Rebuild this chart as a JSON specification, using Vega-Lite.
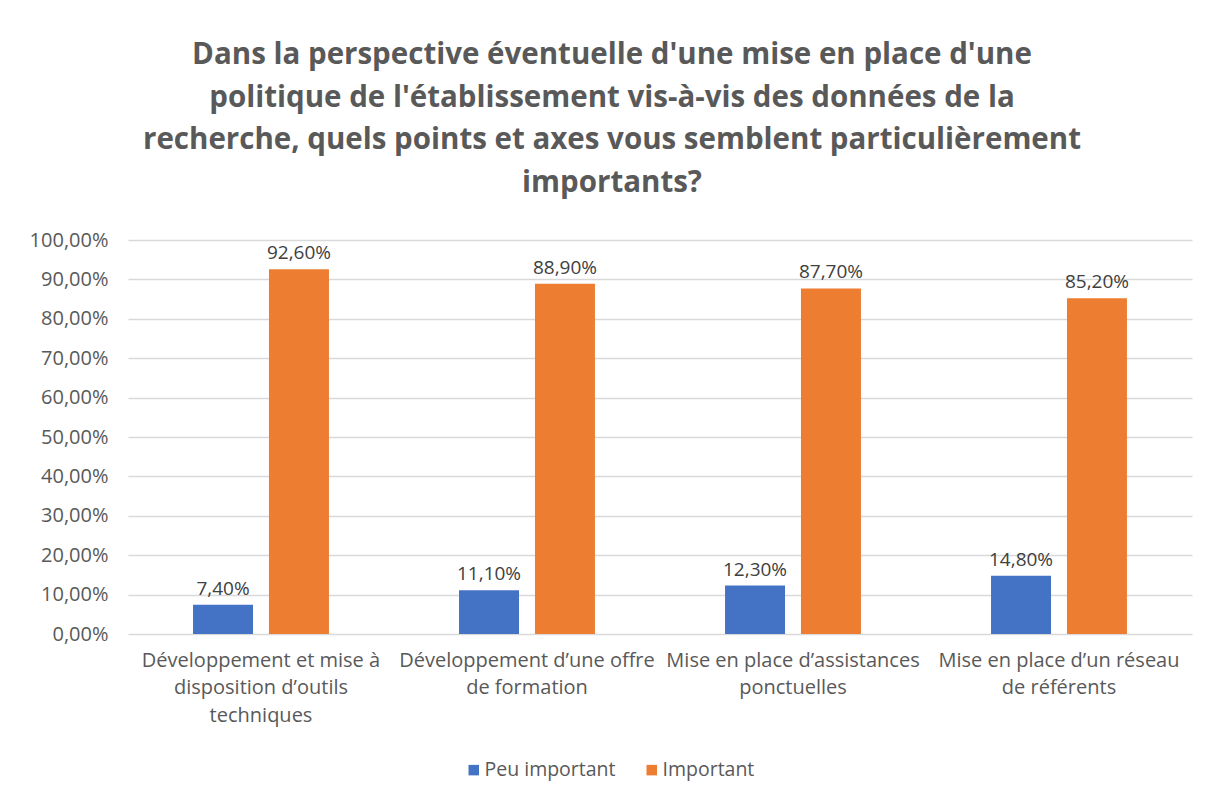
{
  "$schema": "https://vega.github.io/schema/vega-lite/v6.json",
  "width": 1064,
  "height": 394,
  "autosize": {"type": "none"},
  "padding": {"left": 128, "top": 240, "right": 14, "bottom": 167},
  "background": "white",
  "title": {
    "text": ["Dans la perspective éventuelle d'une mise en place d'une", "politique de l'établissement vis-à-vis des données de la", "recherche, quels points et axes vous semblent particulièrement", "importants?"],
    "font": "Open Sans",
    "fontSize": 29.5,
    "fontWeight": "bold",
    "color": "#595959",
    "lineHeight": 42.5,
    "anchor": "middle",
    "dx": -48,
    "offset": 32
  },
  "config": {
    "locale": {"number": {"decimal": ",", "thousands": " ", "grouping": [3], "currency": ["", " €"]}},
    "view": {"stroke": null},
    "font": "Open Sans"
  },
  "data": {
    "values": [
      {"cat": "Développement et mise à|disposition d’outils|techniques", "serie": "Peu important", "value": 0.074},
      {"cat": "Développement et mise à|disposition d’outils|techniques", "serie": "Important", "value": 0.926},
      {"cat": "Développement d’une offre|de formation", "serie": "Peu important", "value": 0.111},
      {"cat": "Développement d’une offre|de formation", "serie": "Important", "value": 0.889},
      {"cat": "Mise en place d’assistances|ponctuelles", "serie": "Peu important", "value": 0.123},
      {"cat": "Mise en place d’assistances|ponctuelles", "serie": "Important", "value": 0.877},
      {"cat": "Mise en place d’un réseau|de référents", "serie": "Peu important", "value": 0.148},
      {"cat": "Mise en place d’un réseau|de référents", "serie": "Important", "value": 0.852}
    ]
  },
  "encoding": {
    "x": {
      "field": "cat",
      "type": "nominal",
      "sort": null,
      "scale": {"paddingInner": 0.489, "paddingOuter": 0.2445},
      "axis": {
        "title": null,
        "labelAngle": 0,
        "labelExpr": "split(datum.label, '|')",
        "labelFont": "Open Sans",
        "labelFontSize": 20,
        "labelColor": "#595959",
        "labelLineHeight": 27.5,
        "labelPadding": 16,
        "labelLimit": 400,
        "labelOverlap": false,
        "ticks": false,
        "domain": false
      }
    },
    "xOffset": {
      "field": "serie",
      "type": "nominal",
      "sort": ["Peu important", "Important"],
      "scale": {"paddingInner": 0.21, "paddingOuter": 0}
    },
    "y": {
      "field": "value",
      "type": "quantitative",
      "scale": {"domain": [0, 1]},
      "axis": {
        "title": null,
        "format": ".2%",
        "values": [0, 0.1, 0.2, 0.3, 0.4, 0.5, 0.6, 0.7, 0.8, 0.9, 1],
        "labelOverlap": false,
        "labelFont": "Open Sans",
        "labelFontSize": 20,
        "labelColor": "#595959",
        "labelPadding": 20,
        "ticks": false,
        "domain": false,
        "grid": true,
        "gridColor": "#d9d9d9",
        "gridWidth": 1.5
      }
    }
  },
  "layer": [
    {
      "mark": {"type": "bar"},
      "encoding": {
        "color": {
          "field": "serie",
          "type": "nominal",
          "sort": ["Peu important", "Important"],
          "scale": {"domain": ["Peu important", "Important"], "range": ["#4472C4", "#ED7D31"]},
          "legend": {
            "title": null,
            "orient": "none",
            "direction": "horizontal",
            "legendX": 336,
            "legendY": 520,
            "symbolType": "square",
            "symbolSize": 110,
            "symbolStrokeWidth": 0,
            "labelFont": "Open Sans",
            "labelFontSize": 19.5,
            "labelColor": "#595959",
            "labelOffset": 1,
            "columnPadding": 26
          }
        }
      }
    },
    {
      "mark": {"type": "text", "baseline": "bottom", "dy": -6, "fontSize": 19, "font": "Open Sans", "color": "#404040"},
      "encoding": {
        "text": {"field": "value", "type": "quantitative", "format": ".2%"}
      }
    }
  ]
}
